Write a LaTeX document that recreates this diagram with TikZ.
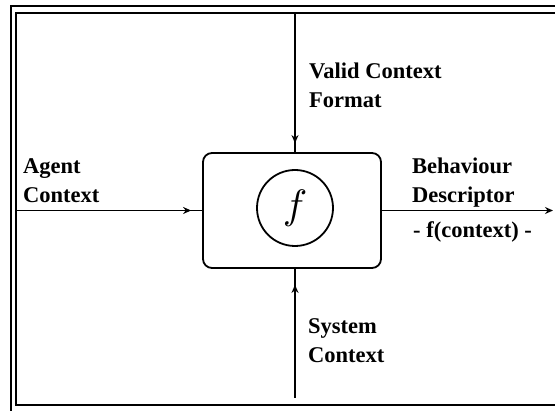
\documentclass[tikz,border=0pt]{standalone}
\usepackage{graphicx}
\usepackage{fontspec}
\setmainfont{Liberation Serif}
\usetikzlibrary{arrows.meta,decorations.markings}
\begin{document}
\begin{tikzpicture}[x=1pt,y=-1pt,
  frame/.style={line width=2.2pt},
  conn/.style={line width=1.8pt},
  lbl/.style={font=\bfseries\fontsize{22.5}{29.5}\selectfont, align=left, inner sep=0pt, anchor=base west},
  tipat/.style={postaction={decorate},decoration={markings,mark=at position #1 with {\arrow{Stealth[length=8pt,width=7pt]}}}}
]
\useasboundingbox (0,0) rectangle (555,411);
\begin{scope}
\clip (0,0) rectangle (555,411);
\draw[frame] (11,6) rectangle (570,425);
\draw[frame] (16,13) rectangle (570,405);
\end{scope}
\node[draw, line width=1.8pt, rounded corners=9pt, minimum width=178pt, minimum height=115pt] (box) at (292,210.5) {};
\node[draw, circle, line width=1.8pt, minimum size=76pt, inner sep=0pt] (fn) at (295,208) {\scalebox{4.1}{$f$}};
\coordinate (vtop) at (295,13);
\coordinate (sbot) at (295,398);
\coordinate (aleft) at (16,210.5);
\coordinate (eright) at (553,210.5);
\draw[conn, tipat=-9pt] (vtop) -- (vtop |- box.north);
\draw[conn, tipat=-16pt] (sbot) -- (sbot |- box.south);
\draw[conn, tipat=-11pt] (aleft) -- (box.west);
\draw[conn, -{Stealth[length=8pt,width=7pt]}] (box.east) -- (eright);
\node[lbl] (vcf) at (309,108) {Valid Context\\Format};
\node[lbl] (ac) at (23,203) {Agent\\Context};
\node[lbl] (bd) at (412,203) {Behaviour\\Descriptor};
\node[lbl] (fc) at (413,238) {- f(context) -};
\node[lbl] (sc) at (308,363) {System\\Context};
\end{tikzpicture}
\end{document}
